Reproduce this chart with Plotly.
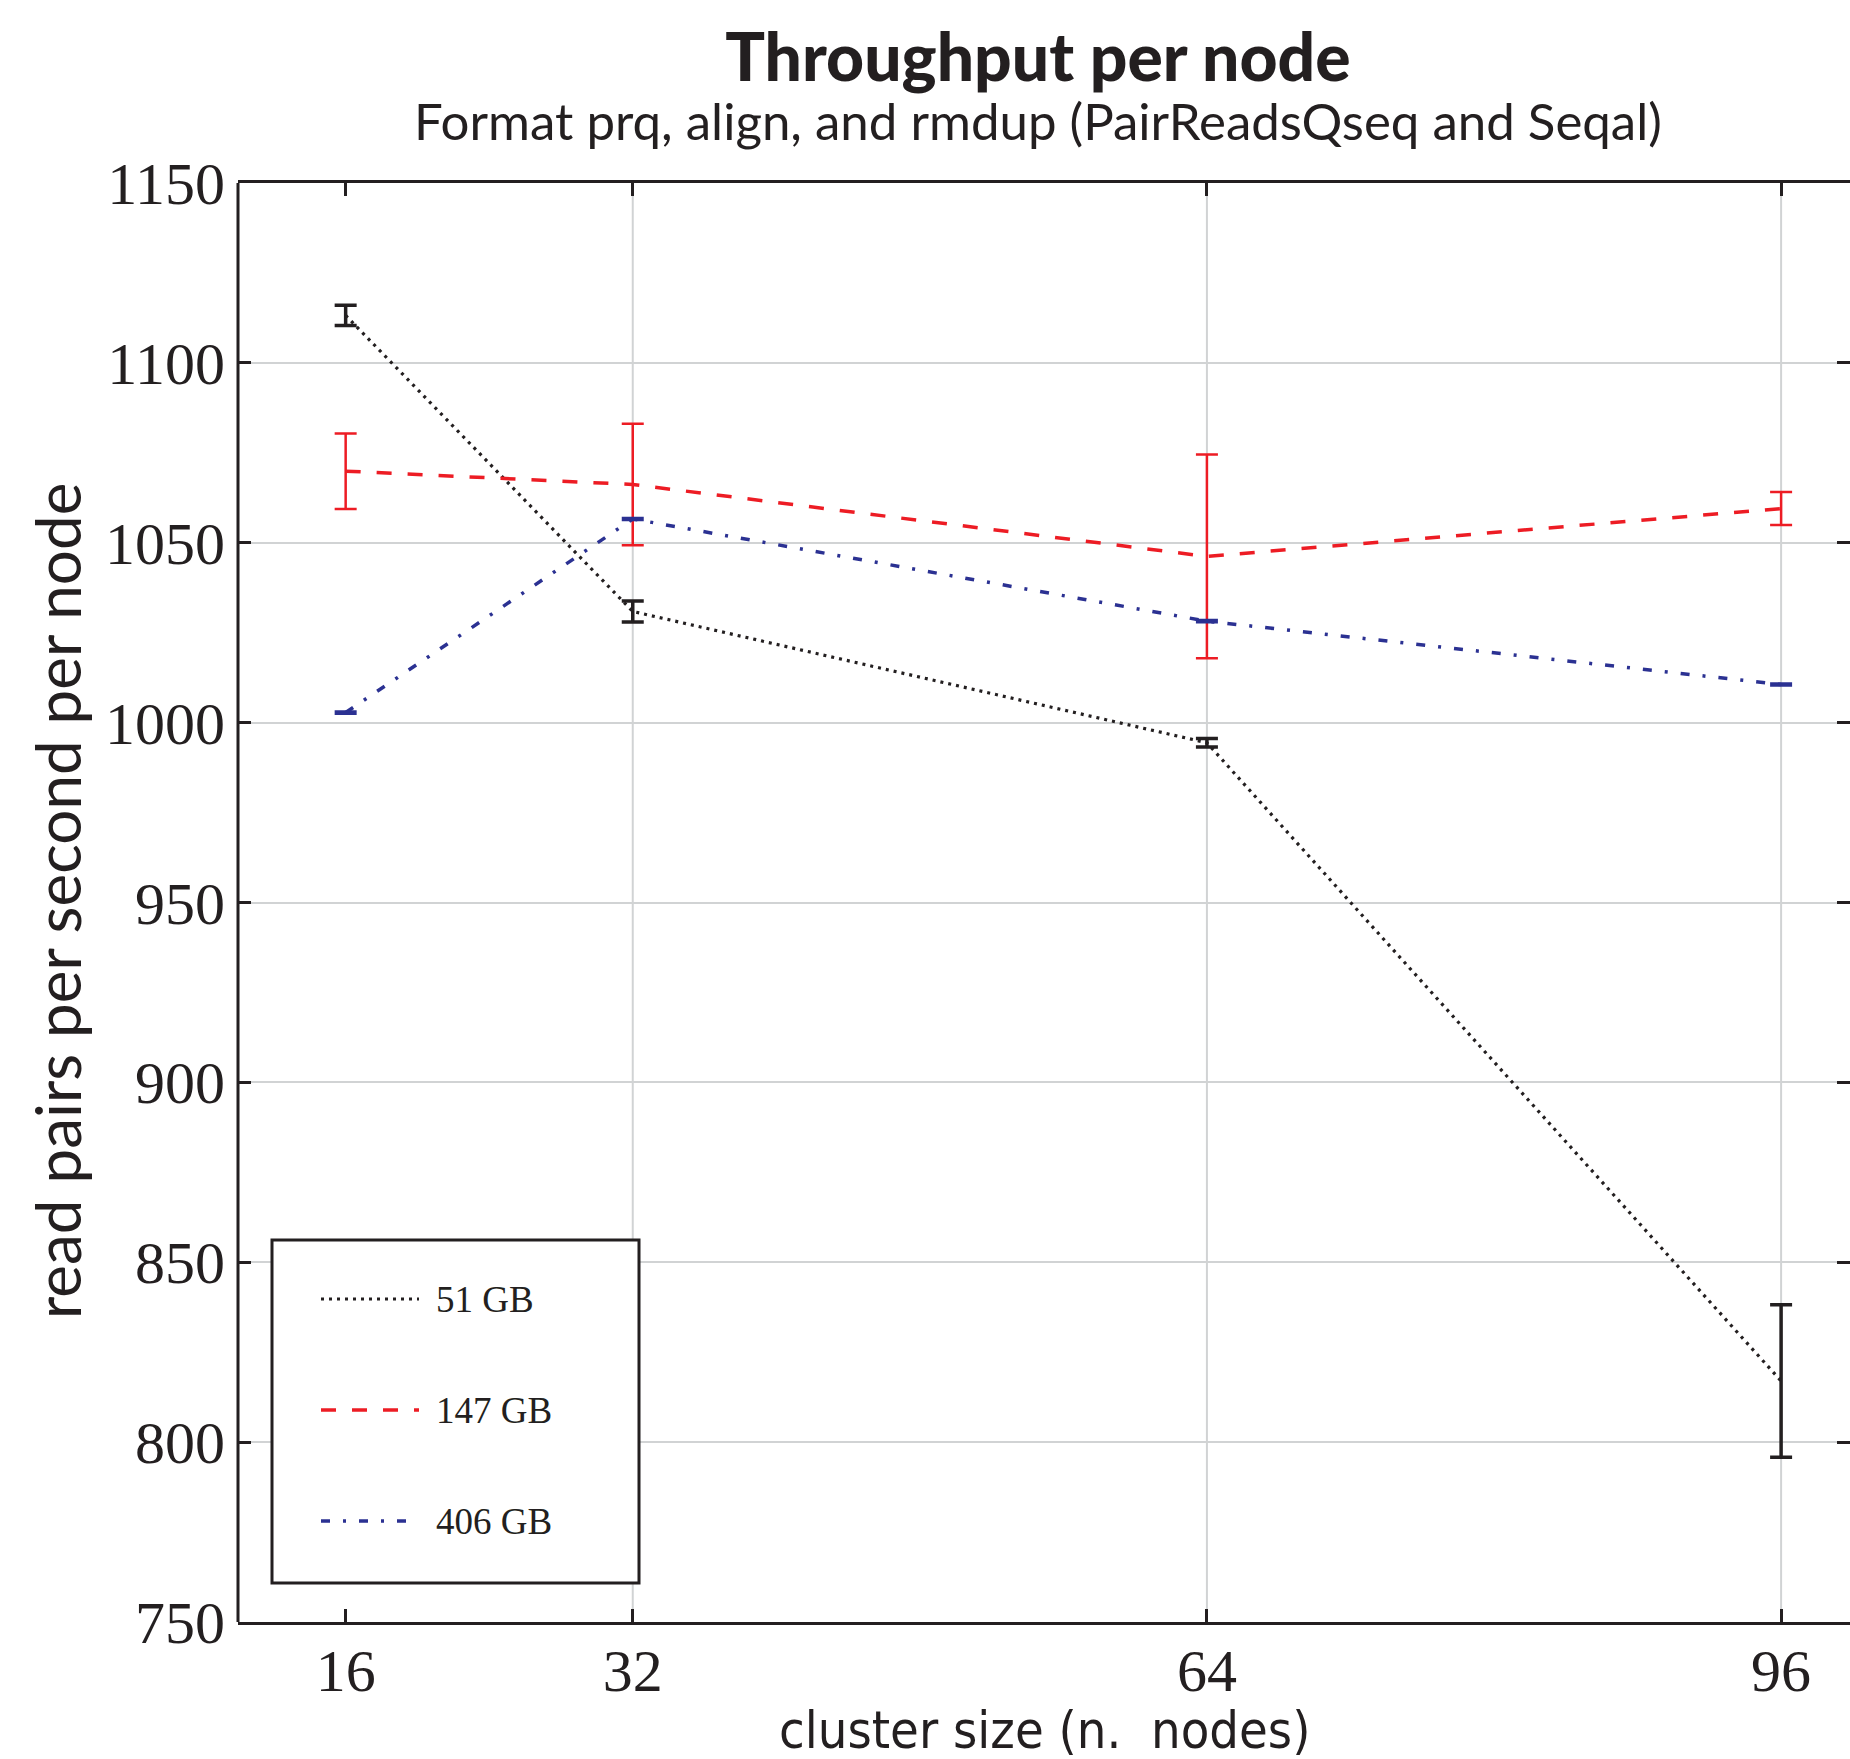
import plotly.graph_objects as go

# ---- data ----
cluster_sizes = [16, 32, 64, 96]
gb51 = [1113.2, 1030.9, 994.4, 817.0]
gb51_err = [2.8, 2.9, 1.2, 21.2]
gb147 = [1069.9, 1066.2, 1046.2, 1059.5]
gb147_err = [10.5, 16.9, 28.3, 4.6]
gb406 = [1002.8, 1056.6, 1028.2, 1010.6]
gb406_err = [0.3, 0.3, 0.3, 0.3]
series_names = ["51 GB", "147 GB", "406 GB"]
y_ticks = [750, 800, 850, 900, 950, 1000, 1050, 1100, 1150]
x_ticks = [16, 32, 64, 96]
x_grid = [32, 64, 96]
title_text = "Throughput per node"
subtitle_text = "Format prq, align, and rmdup (PairReadsQseq and Seqal)"

BLACK = "#231F20"
RED = "#ED1C24"
BLUE = "#2B3192"
GRID = "#d1d3d4"

W, H = 1850, 1759
L, T, B = 238, 183, 137
R = 0
PW = W - L - R
PH = H - T - B


def px_x(p):
    return (p - L) / PW


def px_y(p):
    return (H - B - p) / PH


styles = [
    dict(color=BLACK, width=3.2, dash="3px,5px", ethick=3.5),
    dict(color=RED, width=3.5, dash="15px,16px", ethick=2.5),
    dict(color=BLUE, width=3.5, dash="9px,13px,3px,13px", ethick=2.5),
]
values = [(gb51, gb51_err), (gb147, gb147_err), (gb406, gb406_err)]

fig = go.Figure()
for name, (vals, errs), st in zip(series_names, values, styles):
    fig.add_trace(go.Scatter(
        x=cluster_sizes, y=vals, name=name, mode="lines",
        line=dict(color=st["color"], width=st["width"], dash=st["dash"]),
        error_y=dict(type="data", array=errs, visible=True, color=st["color"],
                     thickness=st["ethick"], width=11),
        showlegend=False,
    ))

shapes = []
# vertical grid lines (no grid at 16 in the original)
for gx in x_grid:
    shapes.append(dict(type="line", xref="x", yref="paper", x0=gx, x1=gx, y0=0, y1=1,
                       line=dict(color=GRID, width=2), layer="below"))
# left spine
shapes.append(dict(type="line", xref="paper", yref="paper", x0=0, x1=0, y0=0, y1=1,
                   line=dict(color=BLACK, width=3), layer="above"))

# manual legend
lx0, lx1 = px_x(272), px_x(639)
ly0, ly1 = px_y(1583), px_y(1240)
shapes.append(dict(type="rect", xref="paper", yref="paper", x0=lx0, x1=lx1, y0=ly0, y1=ly1,
                   line=dict(color=BLACK, width=3), fillcolor="white", layer="above"))
entry_y = [1299, 1410, 1521]
annotations = []
for name, st, ey in zip(series_names, styles, entry_y):
    shapes.append(dict(type="line", xref="paper", yref="paper",
                       x0=px_x(321), x1=px_x(419), y0=px_y(ey), y1=px_y(ey),
                       line=dict(color=st["color"], width=st["width"], dash=st["dash"]),
                       layer="above"))
    annotations.append(dict(xref="paper", yref="paper", x=px_x(434), y=px_y(ey),
                            xanchor="left", yanchor="middle", showarrow=False, text=name,
                            font=dict(family="Liberation Serif", size=37, color=BLACK)))

# title + subtitle in one two-line text block
annotations.append(dict(
    xref="paper", yref="paper", x=px_x(1038), y=px_y(15),
    xanchor="center", yanchor="top", showarrow=False, align="center", borderpad=0,
    text=(f'<span style="font-size:66px;font-weight:900">{title_text}</span><br>'
          f'<span style="font-size:51px">{subtitle_text}</span>'),
    font=dict(family="Lato", size=45, color=BLACK)))
annotations.append(dict(xref="paper", yref="paper", x=px_x(57), y=px_y(901),
                        xanchor="center", yanchor="middle", showarrow=False, textangle=-90,
                        text="read pairs per second per node",
                        font=dict(family="Lato", size=62, color=BLACK)))
annotations.append(dict(xref="paper", yref="paper", x=0.5, y=px_y(1698),
                        xanchor="center", yanchor="top", showarrow=False,
                        text="cluster size (n.&nbsp; nodes)",
                        font=dict(family="Liberation Sans Narrow, DejaVu Sans Condensed, Liberation Sans",
                                  size=52, color=BLACK)))

fig.update_layout(
    width=W, height=H,
    margin=dict(l=L, r=R, t=T, b=B, pad=0),
    paper_bgcolor="white", plot_bgcolor="white",
    showlegend=False,
    shapes=shapes, annotations=annotations,
    xaxis=dict(range=[10, 99.84], tickvals=x_ticks, ticktext=[str(v) for v in x_ticks],
               showgrid=False, zeroline=False,
               showline=True, linecolor=BLACK, linewidth=3, mirror="ticks",
               ticks="inside", ticklen=13, tickwidth=3, tickcolor=BLACK,
               ticklabelstandoff=-6,
               tickfont=dict(family="Liberation Serif", size=60, color=BLACK)),
    yaxis=dict(range=[750, 1150], tickvals=y_ticks, ticktext=[str(v) for v in y_ticks],
               showgrid=True, gridcolor=GRID, gridwidth=2, zeroline=False,
               showline=False, mirror="ticks",
               ticks="inside", ticklen=13, tickwidth=3, tickcolor=BLACK,
               ticklabelstandoff=12,
               tickfont=dict(family="Liberation Serif", size=60, color=BLACK)),
)

fig.write_html(
    "out.html",
    config={"displayModeBar": False},
    post_script="document.body.style.margin='0';document.body.style.overflow='hidden';",
)
